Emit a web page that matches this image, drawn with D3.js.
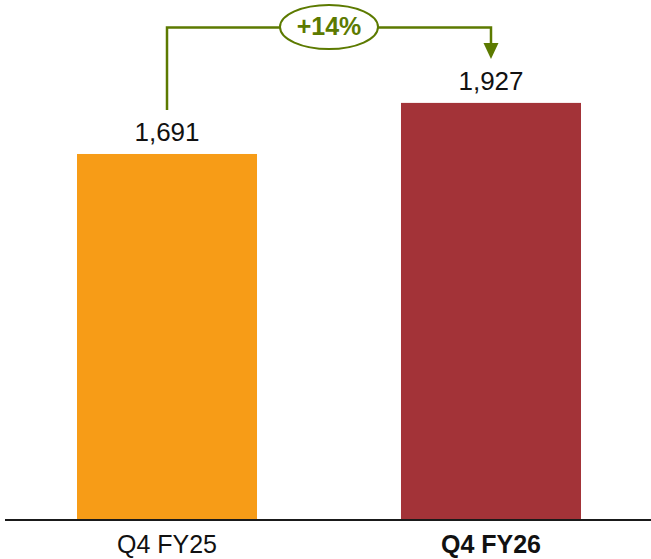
<!DOCTYPE html>
<html>
<head>
<meta charset="utf-8">
<script src="https://cdn.jsdelivr.net/npm/d3@7"></script>
<style>
  html, body { margin: 0; padding: 0; background: #fff; }
  svg { display: block; }
</style>
</head>
<body>
<svg id="chart" width="651" height="559"></svg>
<script>
const categories = ["Q4 FY25", "Q4 FY26"];
const values = [1691, 1927];
const valueLabels = ["1,691", "1,927"];
const changeLabel = "+14%";
const barColors = ["#F79C17", "#A33338"];

const svg = d3.select("#chart");
const font = "'Liberation Sans', Arial, sans-serif";
const green = "#5C7A00";

const x = d3.scaleBand().domain(categories).range([77, 581]).paddingInner(0.4444).paddingOuter(0);
const y = d3.scaleLinear().domain([0, 2000]).range([520, 87.1]);

// bars
svg.selectAll("rect.bar").data(values).enter().append("rect")
  .attr("class", "bar")
  .attr("x", (d, i) => x(categories[i]))
  .attr("width", x.bandwidth())
  .attr("y", d => y(d))
  .attr("height", d => y(0) - y(d))
  .attr("fill", (d, i) => barColors[i]);

// baseline
svg.append("line")
  .attr("x1", 5).attr("x2", 651)
  .attr("y1", y(0)).attr("y2", y(0))
  .attr("stroke", "#1a1a1a").attr("stroke-width", 2);

// category labels
svg.selectAll("text.cat").data(categories).enter().append("text")
  .attr("class", "cat")
  .attr("x", d => x(d) + x.bandwidth() / 2)
  .attr("y", 553)
  .attr("text-anchor", "middle")
  .attr("font-family", font)
  .attr("font-size", 25)
  .attr("font-weight", (d, i) => i === 1 ? "bold" : "normal")
  .attr("fill", "#111")
  .text(d => d);

// value labels
svg.selectAll("text.val").data(values).enter().append("text")
  .attr("class", "val")
  .attr("x", (d, i) => x(categories[i]) + x.bandwidth() / 2)
  .attr("y", d => y(d) - 13)
  .attr("text-anchor", "middle")
  .attr("font-family", font)
  .attr("font-size", 26)
  .attr("fill", "#111")
  .text((d, i) => valueLabels[i]);

// bracket arrow
const cx0 = x(categories[0]) + x.bandwidth() / 2;
const cx1 = x(categories[1]) + x.bandwidth() / 2;
const lineY = 27.5;
const startY = y(values[0]) - 44;
const arrowTip = y(values[1]) - 44;
svg.append("path")
  .attr("d", `M${cx0},${startY} V${lineY} H${cx1} V${arrowTip - 14}`)
  .attr("fill", "none")
  .attr("stroke", green)
  .attr("stroke-width", 2.5);
svg.append("path")
  .attr("d", `M${cx1 - 7.5},${arrowTip - 16} L${cx1 + 7.5},${arrowTip - 16} L${cx1},${arrowTip} Z`)
  .attr("fill", green);

const midX = (cx0 + cx1) / 2;
svg.append("ellipse")
  .attr("cx", midX).attr("cy", 27)
  .attr("rx", 49).attr("ry", 22)
  .attr("fill", "#fff")
  .attr("stroke", green)
  .attr("stroke-width", 2);
svg.append("text")
  .attr("x", midX)
  .attr("y", 34.5)
  .attr("text-anchor", "middle")
  .attr("font-family", font)
  .attr("font-size", 25)
  .attr("font-weight", "bold")
  .attr("fill", green)
  .text(changeLabel);
</script>
</body>
</html>
